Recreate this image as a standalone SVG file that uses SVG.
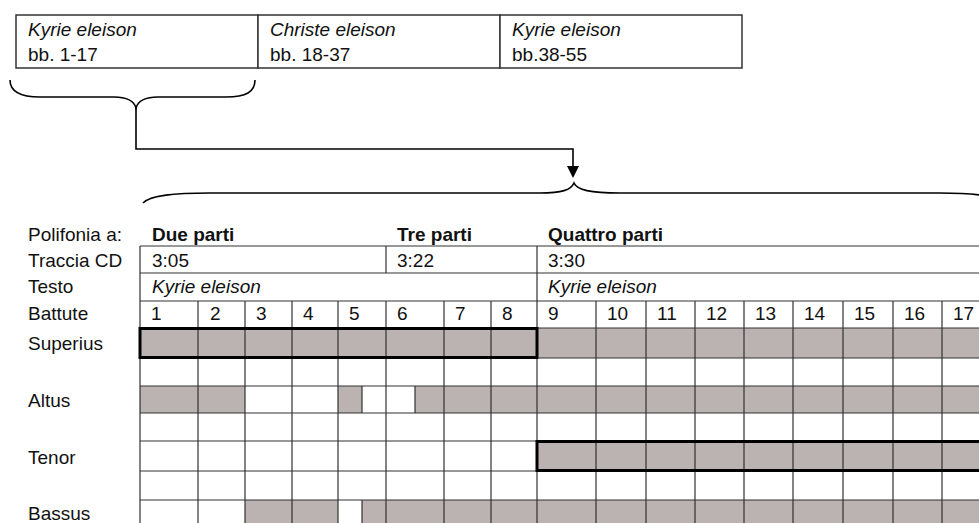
<svg xmlns="http://www.w3.org/2000/svg" width="979" height="523" viewBox="0 0 979 523">
<defs>
<style>
text{font-family:"Liberation Sans",Arial,sans-serif;font-size:19px;fill:#111}
.it{font-style:italic}
.b{font-weight:bold}
.box{fill:#fff;stroke:#333;stroke-width:1.5}
.grid{stroke:#333;stroke-width:1.2;fill:none}
.g{fill:#bab3b1}
.thick{fill:none;stroke:#000;stroke-width:3}
.brace{fill:none;stroke:#000;stroke-width:1.6}
</style>
</defs>
<rect width="979" height="523" fill="#fff"/>

<g id="sections">
<g id="sec-kyrie1">
<rect class="box" x="16" y="15" width="242" height="53"/>
<text class="it" x="28" y="36">Kyrie eleison</text>
<text x="28" y="61">bb. 1-17</text>
</g>
<g id="sec-christe">
<rect class="box" x="258" y="15" width="242" height="53"/>
<text class="it" x="270" y="36">Christe eleison</text>
<text x="270" y="61">bb. 18-37</text>
</g>
<g id="sec-kyrie2">
<rect class="box" x="500" y="15" width="242" height="53"/>
<text class="it" x="512" y="36">Kyrie eleison</text>
<text x="512" y="61">bb.38-55</text>
</g>
</g>

<g id="connectors">
<path class="brace" d="M10,80 C10,92 20,97 40,97 L114,97 C128,97 134,101 136,108 C138,101 144,97 158,97 L226,97 C246,97 255,92 255,80"/>
<polyline class="brace" points="136,108 136,149 573,149 573,168"/>
<polygon points="567,166 579,166 573,178" fill="#000"/>
<path class="brace" d="M143,203 C150,195 175,193 210,193 L540,193 C562,193 571,190 574,183 C577,190 590,193 620,193 L940,193 C975,193 998,196 1005,203"/>
</g>

<g id="labels">
<text x="28" y="241">Polifonia a:</text>
<text x="28" y="267">Traccia CD</text>
<text x="28" y="293">Testo</text>
<text x="28" y="320">Battute</text>
<text x="28" y="350">Superius</text>
<text x="28" y="407">Altus</text>
<text x="28" y="464">Tenor</text>
<text x="28" y="520">Bassus</text>
</g>

<g id="headers">
<text class="b" x="152" y="241">Due parti</text>
<text class="b" x="397" y="241">Tre parti</text>
<text class="b" x="548" y="241">Quattro parti</text>
<text x="152" y="267">3:05</text>
<text x="397" y="267">3:22</text>
<text x="548" y="267">3:30</text>
<text class="it" x="152" y="293">Kyrie eleison</text>
<text class="it" x="548" y="293">Kyrie eleison</text>
</g>

<g id="fills">
<rect class="g" x="140" y="328" width="850" height="30"/>
<rect class="g" x="140" y="386" width="105" height="27"/>
<rect class="g" x="338" y="386" width="24" height="27"/>
<rect class="g" x="415" y="386" width="575" height="27"/>
<rect class="g" x="537" y="441" width="453" height="30"/>
<rect class="g" x="245" y="500" width="93" height="30"/>
<rect class="g" x="362" y="500" width="628" height="30"/>
</g>

<g id="grid" class="grid">
<path d="M140,246H985M140,273H985M140,301H985M140,328H985M140,358H985M140,386H985M140,413H985M140,441H985M140,471H985M140,500H985"/>
<path d="M140,246V523M386,246V273M537,246V523"/>
<path d="M198,301V523M245,301V523M292,301V523M338,301V523M386,301V523M444,301V523M491,301V523M596,301V523M646,301V523M695,301V523M744,301V523M793,301V523M843,301V523M893,301V523M942,301V523"/>
<path d="M362,386V413M415,386V413M362,500V523"/>
</g>

<g id="bars">
<text x="151" y="320">1</text>
<text x="210" y="320">2</text>
<text x="256" y="320">3</text>
<text x="303" y="320">4</text>
<text x="349" y="320">5</text>
<text x="397" y="320">6</text>
<text x="455" y="320">7</text>
<text x="502" y="320">8</text>
<text x="548" y="320">9</text>
<text x="607" y="320">10</text>
<text x="657" y="320">11</text>
<text x="706" y="320">12</text>
<text x="755" y="320">13</text>
<text x="804" y="320">14</text>
<text x="854" y="320">15</text>
<text x="904" y="320">16</text>
<text x="953" y="320">17</text>
</g>

<g id="highlights">
<rect class="thick" x="140" y="328.5" width="397" height="29"/>
<rect class="thick" x="537" y="441.5" width="460" height="29"/>
</g>
</svg>
